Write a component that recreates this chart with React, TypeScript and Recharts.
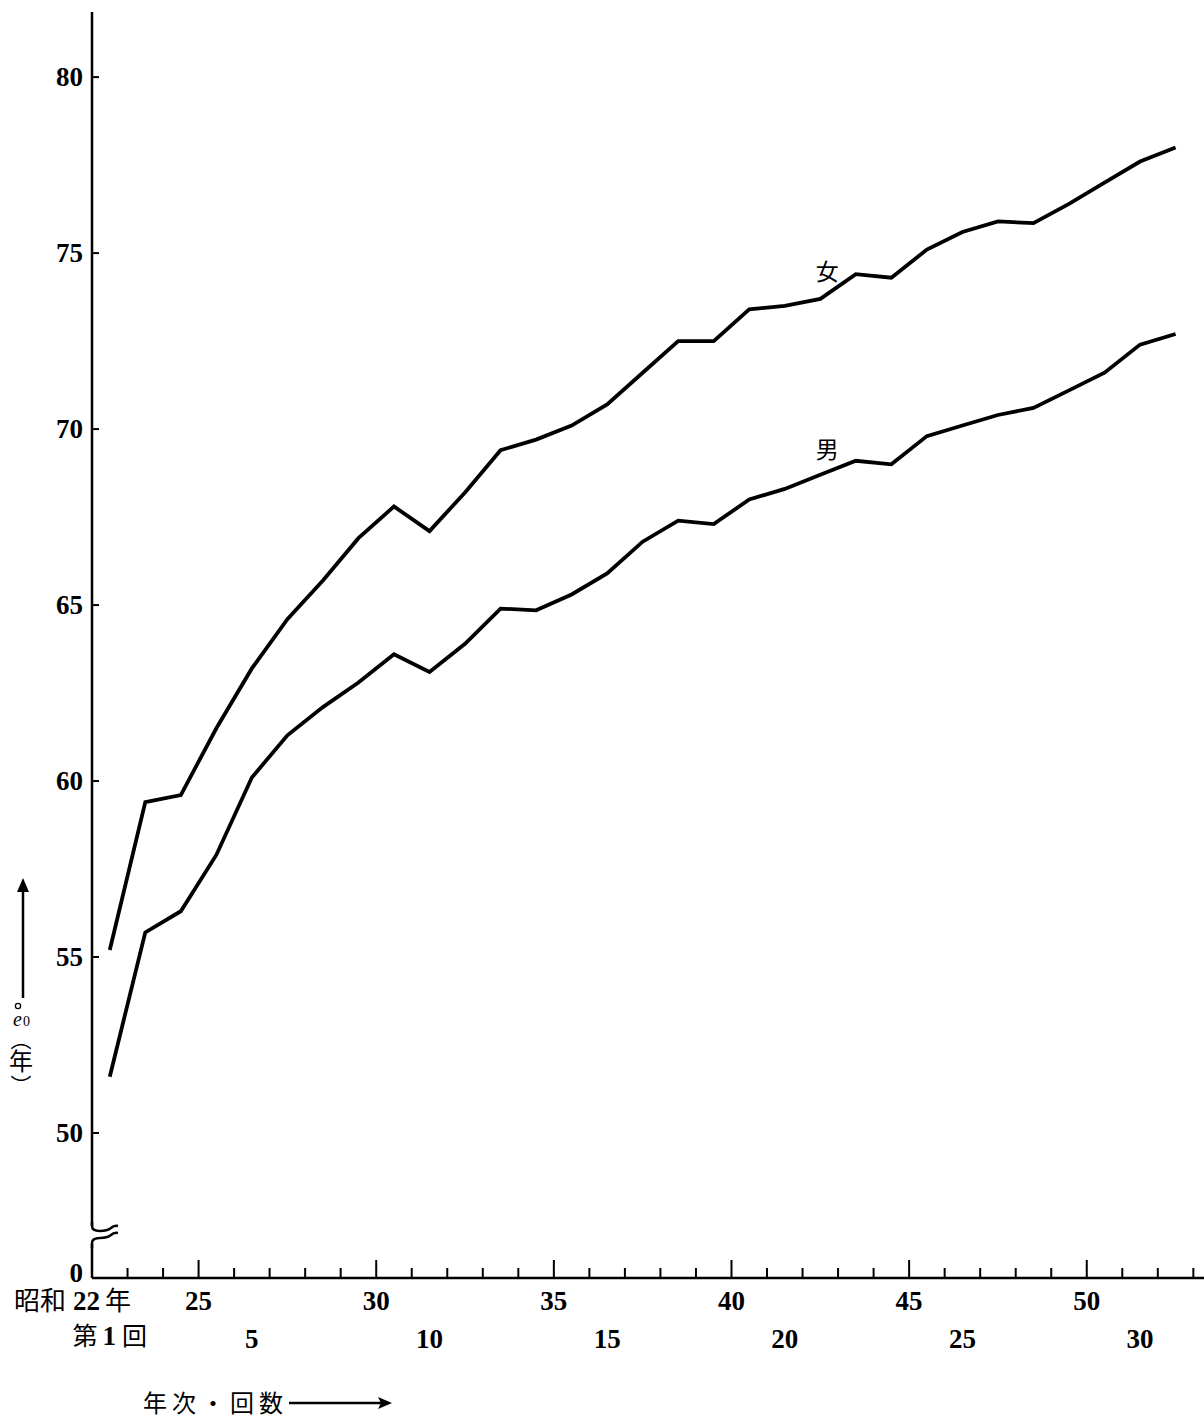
import React from 'react';
import { LineChart, Line, XAxis, YAxis } from 'recharts';

// 回数 (第1回 = 昭和22年)
const rounds = [1, 2, 3, 4, 5, 6, 7, 8, 9, 10, 11, 12, 13, 14, 15, 16, 17, 18, 19, 20, 21, 22, 23, 24, 25, 26, 27, 28, 29, 30, 31];
// 年次 (昭和)
const years = [22, 23, 24, 25, 26, 27, 28, 29, 30, 31, 32, 33, 34, 35, 36, 37, 38, 39, 40, 41, 42, 43, 44, 45, 46, 47, 48, 49, 50, 51, 52];

// 平均寿命 (年)
const female = [55.2, 59.4, 59.6, 61.5, 63.2, 64.6, 65.7, 66.9, 67.8, 67.1, 68.2, 69.4, 69.7, 70.1, 70.7, 71.6, 72.5, 72.5, 73.4, 73.5, 73.7, 74.4, 74.3, 75.1, 75.6, 75.9, 75.85, 76.4, 77.0, 77.6, 78.0];
const male = [51.6, 55.7, 56.3, 57.9, 60.1, 61.3, 62.1, 62.8, 63.6, 63.1, 63.9, 64.9, 64.85, 65.3, 65.9, 66.8, 67.4, 67.3, 68.0, 68.3, 68.7, 69.1, 69.0, 69.8, 70.1, 70.4, 70.6, 71.1, 71.6, 72.4, 72.7];

const yTicks = [50, 55, 60, 65, 70, 75, 80];
const yearTicks = [22, 23, 24, 25, 26, 27, 28, 29, 30, 31, 32, 33, 34, 35, 36, 37, 38, 39, 40, 41, 42, 43, 44, 45, 46, 47, 48, 49, 50, 51, 52, 53];
const yearLabels = [25, 30, 35, 40, 45, 50];
const roundTicks = [1, 5, 10, 15, 20, 25, 30];

const BASE = 45.88; // "0" below the axis break
const TOP = 81.85;

const rows = rounds.map((r, i) => ({ round: r, year: years[i], female: female[i], male: male[i] }));

const CJK = '"Noto Sans CJK JP", "Noto Sans CJK SC", sans-serif';
const SERIF = '"Liberation Serif", "DejaVu Serif", serif';
const AXIS_X = 92;
const AXIS_Y = 1278;

const numStyle = { fontFamily: SERIF, fontSize: 27, fontWeight: 700 as const };

const YTick = (props: any) => {
  const { y, payload } = props;
  const v = payload.value;
  if (v === BASE) {
    const ax = AXIS_X;
    return (
      <g>
        <rect x={ax - 3} y={y - 52} width={6} height={18} fill="#fff" />
        <path
          d={`M${ax} ${y - 56} L${ax} ${y - 52} Q${ax} ${y - 47} ${ax + 8} ${y - 47} Q${ax + 15} ${y - 47} ${ax + 19} ${y - 50} Q${ax + 22} ${y - 53} ${ax + 26} ${y - 52}`}
          fill="none" stroke="#000" strokeWidth={2.5}
        />
        <path
          d={`M${ax} ${y - 30} L${ax} ${y - 35} Q${ax} ${y - 40} ${ax + 8} ${y - 40} Q${ax + 15} ${y - 40} ${ax + 19} ${y - 43} Q${ax + 22} ${y - 46} ${ax + 26} ${y - 45}`}
          fill="none" stroke="#000" strokeWidth={2.5}
        />
        <text x={83} y={y + 4} textAnchor="end" {...numStyle} fill="#000">0</text>
      </g>
    );
  }
  return (
    <g>
      <line x1={AXIS_X} x2={AXIS_X + 7} y1={y} y2={y} stroke="#000" strokeWidth={2} />
      <text x={83} y={y + 9} textAnchor="end" {...numStyle} fill="#000">{v}</text>
    </g>
  );
};

const YearTick = (props: any) => {
  const { x, payload } = props;
  const v = payload.value;
  const long = v % 5 === 0;
  return (
    <g>
      {v !== 22 && (
        <line x1={x} x2={x} y1={AXIS_Y} y2={AXIS_Y - (long ? 18 : 10)} stroke="#000" strokeWidth={2} />
      )}
      {v === 22 && (
        <text x={14} y={1310} fill="#000" fontSize={26}>
          <tspan fontFamily={CJK}>昭和</tspan>
          <tspan {...numStyle} dx={7}>22</tspan>
          <tspan fontFamily={CJK} dx={5}>年</tspan>
        </text>
      )}
      {yearLabels.includes(v) && (
        <text x={x} y={1310} textAnchor="middle" {...numStyle} fill="#000">{v}</text>
      )}
    </g>
  );
};

const RoundTick = (props: any) => {
  const { x, payload } = props;
  const v = payload.value;
  if (v === 1) {
    return (
      <text x={x} y={1345} textAnchor="middle" fill="#000" fontSize={25}>
        <tspan fontFamily={CJK}>第</tspan>
        <tspan {...numStyle} dx={5}>1</tspan>
        <tspan fontFamily={CJK} dx={6}>回</tspan>
      </text>
    );
  }
  return (
    <text x={x} y={1348} textAnchor="middle" {...numStyle} fill="#000">{v}</text>
  );
};

const seriesLabel = (text: string, dy: number) => (p: any) => {
  if (p.index !== 20) return null;
  return (
    <text x={p.x + 7} y={p.y + dy} textAnchor="middle" fontFamily={CJK} fontSize={23} fill="#000">{text}</text>
  );
};

const App: React.FC = () => {
  return (
    <div style={{ position: 'absolute', left: 0, top: 0, width: 1204, height: 1418, background: '#fff' }}>
      <LineChart width={1204} height={1418} data={rows} margin={{ top: 12, right: 0, bottom: 0, left: 0 }}>
        <YAxis
          type="number"
          domain={[BASE, TOP]}
          ticks={[BASE, ...yTicks]}
          interval={0}
          allowDataOverflow
          width={AXIS_X}
          tickLine={false}
          axisLine={{ stroke: '#000', strokeWidth: 2.5 }}
          tick={<YTick />}
        />
        <XAxis
          xAxisId="a"
          dataKey="year"
          type="number"
          domain={[22, 53.3]}
          ticks={yearTicks}
          interval={0}
          allowDataOverflow
          height={60}
          tickLine={false}
          axisLine={{ stroke: '#000', strokeWidth: 2.5 }}
          tick={<YearTick />}
        />
        <XAxis
          xAxisId="b"
          dataKey="round"
          type="number"
          domain={[0.5, 31.8]}
          ticks={roundTicks}
          interval={0}
          allowDataOverflow
          height={80}
          tickLine={false}
          axisLine={false}
          tick={<RoundTick />}
        />
        <Line
          xAxisId="b"
          type="linear"
          dataKey="female"
          stroke="#000"
          strokeWidth={3.8}
          dot={false}
          isAnimationActive={false}
          label={seriesLabel('女', -19)}
        />
        <Line
          xAxisId="b"
          type="linear"
          dataKey="male"
          stroke="#000"
          strokeWidth={3.8}
          dot={false}
          isAnimationActive={false}
          label={seriesLabel('男', -17)}
        />
      </LineChart>
      <svg width={1204} height={1418} style={{ position: 'absolute', left: 0, top: 0, pointerEvents: 'none' }}>
        {/* y-axis title */}
        <line x1={23} y1={998} x2={23} y2={886} stroke="#000" strokeWidth={2.5} />
        <path d="M23 878 L17 892 L29 892 Z" fill="#000" />
        <circle cx={18} cy={1006} r={2.6} fill="none" stroke="#000" strokeWidth={1.3} />
        <text x={13} y={1026} fontFamily={SERIF} fill="#000">
          <tspan fontStyle="italic" fontSize={20}>e</tspan>
          <tspan fontSize={14} dx={1}>0</tspan>
        </text>
        <text x={21} y={1047} textAnchor="middle" fontFamily={CJK} fontSize={21} fill="#000">︵</text>
        <text x={21} y={1070} textAnchor="middle" fontFamily={CJK} fontSize={24} fill="#000">年</text>
        <text x={21} y={1093} textAnchor="middle" fontFamily={CJK} fontSize={21} fill="#000">︶</text>
        {/* x-axis title */}
        <text x={143} y={1412} fontFamily={CJK} fontSize={24} letterSpacing={5} fill="#000">年次・回数</text>
        <line x1={289} y1={1403} x2={384} y2={1403} stroke="#000" strokeWidth={2.5} />
        <path d="M392 1403 L378 1397 L381 1403 L378 1409 Z" fill="#000" />
      </svg>
    </div>
  );
};

export default App;
